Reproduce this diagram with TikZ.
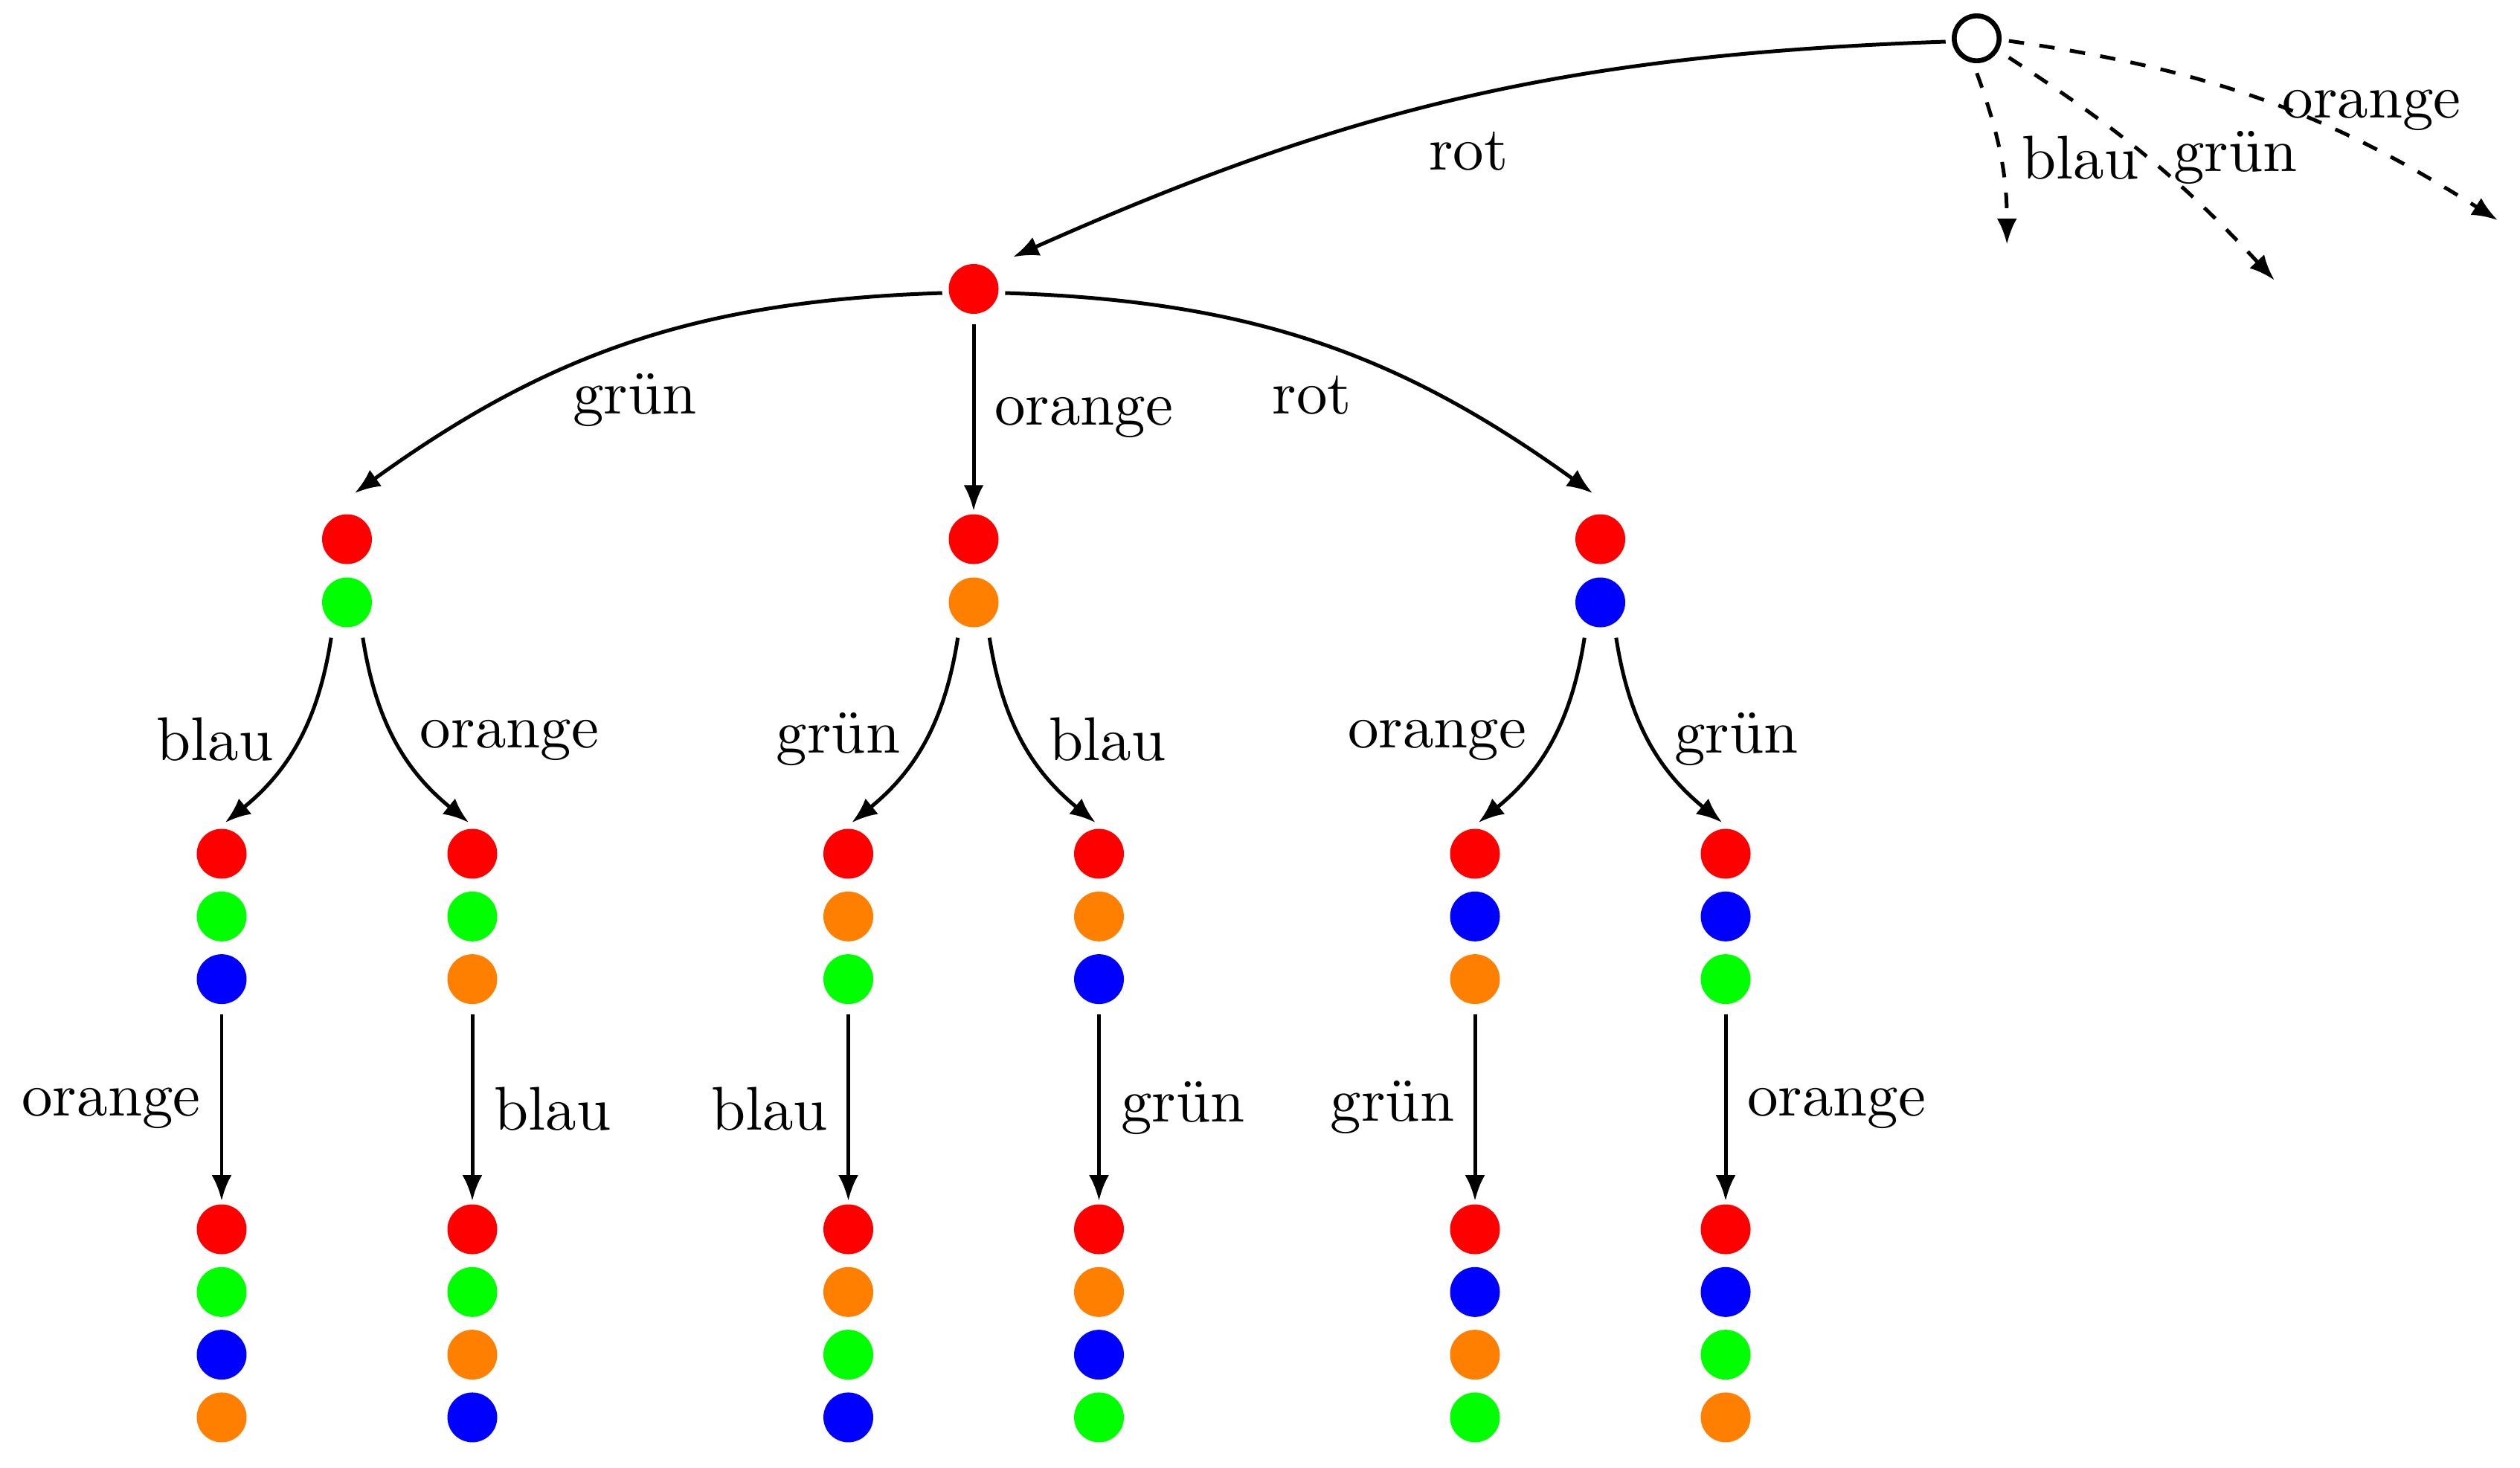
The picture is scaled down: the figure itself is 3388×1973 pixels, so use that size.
\documentclass[tikz,border=0pt]{standalone}
\usetikzlibrary{arrows.meta,calc}
\definecolor{cred}{RGB}{255,0,0}
\definecolor{cgreen}{RGB}{0,255,0}
\definecolor{cblue}{RGB}{0,0,255}
\definecolor{corange}{RGB}{255,128,0}
\begin{document}
\begin{tikzpicture}[x=0.12048pt,y=0.12048pt,
  dot/.style={circle,inner sep=0pt,minimum size=8.07pt,draw=none},
  rootdot/.style={circle,inner sep=0pt,minimum size=7.27pt,draw=black,thick},
  edge/.style={semithick,-{Latex[length=4.15pt,width=3.25pt]}},
  dashedge/.style={dash pattern=on 2.5pt off 2.5pt},
  lbl/.style={anchor=base,inner sep=0pt}]
\useasboundingbox (0,0) rectangle (3388,1973);
% root and first level
\node[rootdot] (R) at (2657.5,1921.5) {};
\node[dot,fill=cred] (A) at (1309,1584.5) {};
% second level
\node[dot,fill=cred]    (B11) at (466.5,1248) {};
\node[dot,fill=cgreen]  (B12) at (466.5,1163) {};
\node[dot,fill=cred]    (B21) at (1309,1248) {};
\node[dot,fill=corange] (B22) at (1309,1163) {};
\node[dot,fill=cred]    (B31) at (2151.5,1248) {};
\node[dot,fill=cblue]   (B32) at (2151.5,1163) {};
% third level
\foreach \n/\x/\ca/\cb/\cc in {1/298/cred/cgreen/cblue,2/635/cred/cgreen/corange,
  3/1140.5/cred/corange/cgreen,4/1477.5/cred/corange/cblue,
  5/1983/cred/cblue/corange,6/2320/cred/cblue/cgreen}{
  \node[dot,fill=\ca] (C\n1) at (\x,825) {};
  \node[dot,fill=\cb] (C\n2) at (\x,740.7) {};
  \node[dot,fill=\cc] (C\n3) at (\x,656.4) {};
}
% fourth level
\foreach \n/\x/\ca/\cb/\cc/\cd in {1/298/cred/cgreen/cblue/corange,2/635/cred/cgreen/corange/cblue,
  3/1140.5/cred/corange/cgreen/cblue,4/1477.5/cred/corange/cblue/cgreen,
  5/1983/cred/cblue/corange/cgreen,6/2320/cred/cblue/cgreen/corange}{
  \node[dot,fill=\ca] (D\n1) at (\x,320) {};
  \node[dot,fill=\cb] (D\n2) at (\x,235.7) {};
  \node[dot,fill=\cc] (D\n3) at (\x,151.4) {};
  \node[dot,fill=\cd] (D\n4) at (\x,67.1) {};
}
% free ends of dashed edges
\coordinate (eb) at (2698.2,1644.7);
\coordinate (eg) at (3057.8,1596.3);
\coordinate (eo) at (3357.9,1677);
% edges from root
\draw[edge] ($(R)+(-41.8,-4.5)$) to[bend right=11] ($(A)+(53,43)$);
\draw[edge,dashedge] ($(R)+(0.2,-46.8)$) to[bend left=10] (eb);
\draw[edge,dashedge] ($(R)+(43.2,-25.8)$) to[bend left=7] (eg);
\draw[edge,dashedge] ($(R)+(43.2,-3.5)$) to[bend left=12] (eo);
% edges from A
\draw[edge] ($(A)+(-42.3,-5.5)$) to[bend right=17] ($(B11)+(10.5,62)$);
\draw[edge] ($(A)+(0,-47.5)$) -- ($(B21)+(0,38.3)$);
\draw[edge] ($(A)+(42.3,-5.5)$) to[bend left=17] ($(B31)+(-10.5,62)$);
% edges from second level
\foreach \n/\l/\r in {1/1/2,2/3/4,3/5/6}{
  \draw[edge] ($(B\n2)+(-21.3,-47.6)$) to[bend left=21] ($(C\l1)+(4.8,42)$);
  \draw[edge] ($(B\n2)+(21.3,-47.6)$) to[bend right=21] ($(C\r1)+(-4.8,42)$);
}
% edges from third level
\foreach \n in {1,...,6}{
  \draw[edge] ($(C\n3)+(0,-46.9)$) -- ($(D\n1)+(0,38.4)$);
}
% labels
\node[lbl] (l1) at (1974.5,1744.5) {rot};
\node[lbl] (l2) at (2797,1732.3) {blau};
\node[lbl] (l3) at (3005.4,1743) {grün};
\node[lbl] (l4) at (3188.6,1814.7) {orange};
\node[lbl] (l5) at (853.4,1417) {grün};
\node[lbl] (l6) at (1457,1402) {orange};
\node[lbl] (l7) at (1764,1417) {rot};
\node[lbl] (l8) at (289,950.5) {blau};
\node[lbl] (l9) at (685,968) {orange};
\node[lbl] (l10) at (1127,960.5) {grün};
\node[lbl] (l11) at (1489,950.2) {blau};
\node[lbl] (l12) at (1932,968) {orange};
\node[lbl] (l13) at (2334.5,960.5) {grün};
\node[lbl] (l14) at (149.5,473) {orange};
\node[lbl] (l15) at (743,453.3) {blau};
\node[lbl] (l16) at (1034.5,453.3) {blau};
\node[lbl] (l17) at (1590.5,465) {grün};
\node[lbl] (l18) at (1872,465.3) {grün};
\node[lbl] (l19) at (2469,473) {orange};
\end{tikzpicture}
\end{document}
